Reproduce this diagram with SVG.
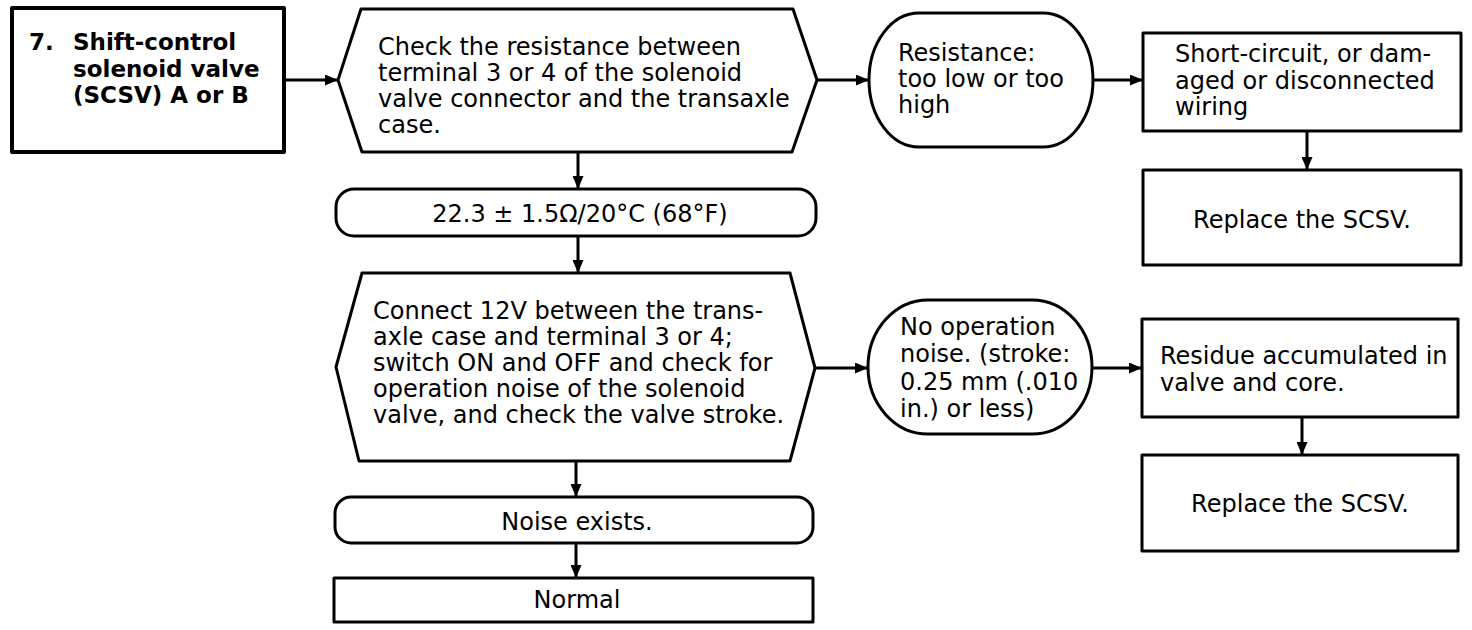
<svg xmlns="http://www.w3.org/2000/svg" width="1472" height="630" viewBox="0 0 1472 630">
<defs>
<style>
.shape{fill:#fff;stroke:#000;stroke-width:3;stroke-linejoin:round}
.t{font-family:"DejaVu Sans","Liberation Sans",sans-serif;font-size:24px;fill:#000}
.b{font-family:"DejaVu Sans","Liberation Sans",sans-serif;font-size:23px;font-weight:bold;fill:#000}
.c{text-anchor:middle}
.conn{stroke:#000;stroke-width:3;fill:none;marker-end:url(#ah)}
</style>
<marker id="ah" markerUnits="userSpaceOnUse" markerWidth="13" markerHeight="11" refX="13" refY="5.5" orient="auto">
<path d="M0,0 L13,5.5 L0,11 Z" fill="#000"/>
</marker>
</defs>
<rect width="1472" height="630" fill="#fff"/>
<g id="connectors">
<line class="conn" x1="284" y1="80" x2="338" y2="80"/>
<line class="conn" x1="817" y1="80" x2="869" y2="80"/>
<line class="conn" x1="1093" y1="80" x2="1143" y2="80"/>
<line class="conn" x1="1307" y1="131" x2="1307" y2="170"/>
<line class="conn" x1="578" y1="152" x2="578" y2="189"/>
<line class="conn" x1="578" y1="236" x2="578" y2="273"/>
<line class="conn" x1="815" y1="368" x2="868" y2="368"/>
<line class="conn" x1="1092" y1="368" x2="1142" y2="368"/>
<line class="conn" x1="1302" y1="417" x2="1302" y2="455"/>
<line class="conn" x1="576" y1="461" x2="576" y2="497"/>
<line class="conn" x1="576" y1="543" x2="576" y2="578"/>
</g>
<g id="n_title">
<rect class="shape" x="12" y="8" width="272" height="144" style="stroke-width:4"/>
<text class="b" x="29" y="50">7.</text>
<text class="b" x="73" y="50">Shift-control</text>
<text class="b" x="73" y="77">solenoid valve</text>
<text class="b" x="73" y="103">(SCSV) A or B</text>
</g>
<g id="n_check_res">
<polygon class="shape" points="361,9 793,9 817,80 792,152 362,152 338,80"/>
<text class="t" x="378" y="55">Check the resistance between</text>
<text class="t" x="378" y="81">terminal 3 or 4 of the solenoid</text>
<text class="t" x="378" y="107">valve connector and the transaxle</text>
<text class="t" x="378" y="133">case.</text>
</g>
<g id="n_res_bad">
<rect class="shape" x="869" y="13" width="224" height="134" rx="50" ry="67"/>
<text class="t" x="898" y="61">Resistance:</text>
<text class="t" x="898" y="87">too low or too</text>
<text class="t" x="898" y="113">high</text>
</g>
<g id="n_short">
<rect class="shape" x="1143" y="33" width="318" height="98"/>
<text class="t" x="1175" y="62">Short-circuit, or dam-</text>
<text class="t" x="1175" y="89">aged or disconnected</text>
<text class="t" x="1175" y="115">wiring</text>
</g>
<g id="n_replace1">
<rect class="shape" x="1143" y="170" width="318" height="95"/>
<text class="t c" x="1302" y="228">Replace the SCSV.</text>
</g>
<g id="n_spec">
<rect class="shape" x="336" y="189" width="480" height="47" rx="18" ry="18"/>
<text class="t c" x="580" y="222">22.3 ± 1.5Ω/20°C (68°F)</text>
</g>
<g id="n_connect12v">
<polygon class="shape" points="362,273 790,273 815,368 790,461 359,461 336,367"/>
<text class="t" x="373" y="319">Connect 12V between the trans-</text>
<text class="t" x="373" y="345">axle case and terminal 3 or 4;</text>
<text class="t" x="373" y="371">switch ON and OFF and check for</text>
<text class="t" x="373" y="397">operation noise of the solenoid</text>
<text class="t" x="373" y="423">valve, and check the valve stroke.</text>
</g>
<g id="n_no_noise">
<rect class="shape" x="868" y="300" width="224" height="134" rx="60" ry="67"/>
<text class="t" x="900" y="335">No operation</text>
<text class="t" x="900" y="362">noise. (stroke:</text>
<text class="t" x="900" y="390">0.25 mm (.010</text>
<text class="t" x="900" y="417">in.) or less)</text>
</g>
<g id="n_residue">
<rect class="shape" x="1142" y="319" width="316" height="98"/>
<text class="t" x="1160" y="364">Residue accumulated in</text>
<text class="t" x="1160" y="391">valve and core.</text>
</g>
<g id="n_replace2">
<rect class="shape" x="1142" y="455" width="316" height="96"/>
<text class="t c" x="1300" y="512">Replace the SCSV.</text>
</g>
<g id="n_noise">
<rect class="shape" x="335" y="497" width="478" height="46" rx="16" ry="16"/>
<text class="t c" x="577" y="530">Noise exists.</text>
</g>
<g id="n_normal">
<rect class="shape" x="334" y="578" width="479" height="44"/>
<text class="t c" x="577" y="608">Normal</text>
</g>
</svg>
